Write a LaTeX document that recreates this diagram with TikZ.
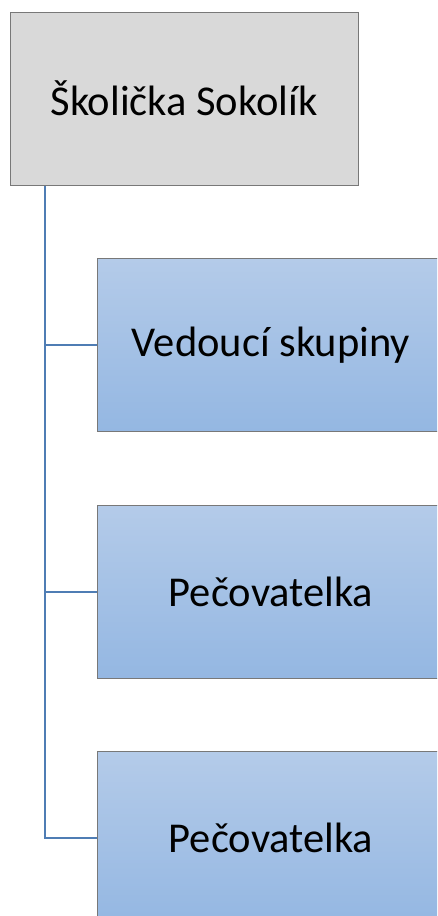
\documentclass[tikz,border=0pt]{standalone}
\usepackage{fontspec}
\setmainfont{Carlito}
\usetikzlibrary{positioning}
\definecolor{sokgray}{RGB}{217,217,217}
\definecolor{sokedge}{RGB}{120,120,120}
\definecolor{sokblue}{RGB}{79,125,180}
\definecolor{soktop}{RGB}{180,203,233}
\definecolor{sokbottom}{RGB}{148,183,226}

\begin{document}
\begin{tikzpicture}[
      x=1pt, y=-1pt,
      orgbox/.style={rectangle, minimum width=348pt, minimum height=173pt, inner sep=0pt, draw=sokedge, line width=1pt, font=\fontsize{42.5}{50}\selectfont},
      rootbox/.style={orgbox, fill=sokgray},
      staffbox/.style={orgbox, top color=soktop, bottom color=sokbottom},
      link/.style={draw=sokblue, line width=2pt}
    ]
      \clip (0,0) rectangle (437,916);

      \node[rootbox] (root) at (184, 98.5) {Školička Sokolík};
      \node[staffbox] (lead) at (271, 345) {Vedoucí skupiny};
      \node[staffbox] (care1) at (271, 591.5) {Pečovatelka};
      \node[staffbox] (care2) at (271, 838) {Pečovatelka};

      % trunk and branches
      \coordinate (trunk) at ([xshift=35pt]root.south west);
      \draw[link] (trunk) |- (care2.west);
      \draw[link] (trunk |- lead.west) -- (lead.west);
      \draw[link] (trunk |- care1.west) -- (care1.west);
    \end{tikzpicture}
\end{document}
